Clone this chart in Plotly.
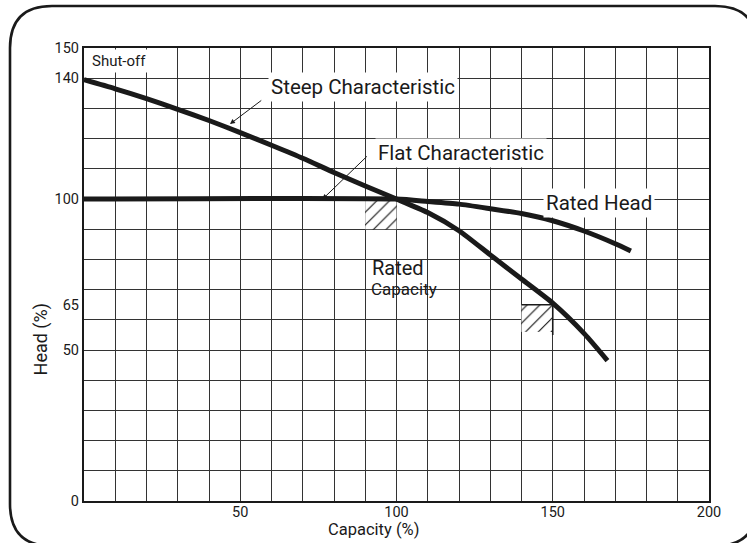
import plotly.graph_objects as go

# ---- data ----
steep_x = [0, 10, 20, 30, 40, 50, 60, 70, 80, 90, 100, 110, 120, 130, 140, 150, 160, 167.5]
steep_y = [139.5, 136.5, 133.2, 129.7, 126, 122, 117.8, 113.5, 108.8, 104.3, 100, 95.5, 89.5, 81.5, 73.5, 65.5, 55.5, 46.5]

flat_x = [0, 100, 110, 120, 130, 140, 150, 160, 170, 175]
flat_y = [100, 100, 99.2, 98.3, 96.8, 95.2, 92.8, 89.4, 85.2, 82.8]

box1_x = [90, 100, 100, 90, 90]
box1_y = [90, 90, 100, 100, 90]
box2_x = [140, 150, 150, 140, 140]
box2_y = [56, 56, 65, 65, 56]
box2_edge_x = [140, 150, 150]
box2_edge_y = [65, 65, 55]

x_tickvals = [50, 100, 150, 200]
y_tickvals = [0, 50, 65, 100, 140, 150]

W, H = 747, 543
ML, MR, MT, MB = 84, 38, 48, 42
FONT = "Roboto, Liberation Sans, sans-serif"
INK = "#1a1a1a"

fig = go.Figure()

hatch = dict(shape="/", size=9, solidity=0.11, fgcolor="#000000", fgopacity=1, bgcolor="white")
common = dict(xaxis="x2", yaxis="y2", hoverinfo="skip", showlegend=False)
fig.add_trace(go.Scatter(x=box1_x, y=box1_y, fill="toself", mode="lines",
                         line=dict(width=0), fillpattern=hatch, **common))
fig.add_trace(go.Scatter(x=box2_x, y=box2_y, fill="toself", mode="lines",
                         line=dict(width=0), fillpattern=hatch, **common))
fig.add_trace(go.Scatter(x=box2_edge_x, y=box2_edge_y, mode="lines",
                         line=dict(color=INK, width=1.6), **common))

fig.add_trace(go.Scatter(x=steep_x, y=steep_y, mode="lines", name="Steep Characteristic",
                         line=dict(color=INK, width=5, shape="spline", smoothing=0.6), **common))
fig.add_trace(go.Scatter(x=flat_x, y=flat_y, mode="lines", name="Flat Characteristic",
                         line=dict(color=INK, width=5, shape="spline", smoothing=0.6), **common))

grid = dict(showgrid=True, gridcolor="#333333", gridwidth=1.2, showticklabels=False, ticks="",
            showline=True, mirror=True, linecolor=INK, linewidth=1.6, zeroline=False, tick0=0, dtick=10)

fig.update_layout(
    width=W, height=H,
    margin=dict(l=ML, r=MR, t=MT, b=MB),
    paper_bgcolor="white", plot_bgcolor="white",
    font=dict(family=FONT, color=INK, size=14),
    xaxis=dict(range=[0, 200], **grid),
    yaxis=dict(range=[0, 150], **grid),
    xaxis2=dict(overlaying="x", anchor="y2", side="bottom", range=[0, 200], tickmode="array",
                tickvals=x_tickvals, showgrid=False, zeroline=False, showline=False, ticks="",
                tickfont=dict(size=14.5, family=FONT, color=INK)),
    yaxis2=dict(overlaying="y", anchor="x2", side="left", range=[0, 150], tickmode="array",
                tickvals=y_tickvals, showgrid=False, zeroline=False, showline=False, ticks="",
                ticklabelstandoff=4, tickfont=dict(size=14.5, family=FONT, color=INK)),
)

# text labels
def label(text, x, y, size, bg=None, xanchor="left"):
    fig.add_annotation(x=x, y=y, xref="x", yref="y", text=text, showarrow=False,
                       xanchor=xanchor, yanchor="middle", font=dict(size=size, family=FONT, color=INK),
                       bgcolor=bg, borderpad=2)

label("Shut-off", 1.5, 145.6, 15, bg="white")
label("Steep Characteristic", 59, 137.2, 20.5, bg="white")
label("Flat Characteristic", 93, 115.2, 20.5, bg="white")
label("Rated Head", 147, 98.6, 20.5, bg="white")
label("Rated", 91.3, 77.2, 20)
label("Capacity", 91, 70.3, 17)

# arrows
fig.add_annotation(x=46.7, y=124.8, ax=57.2, ay=133, xref="x", yref="y", axref="x", ayref="y",
                   text="", showarrow=True, arrowhead=2, arrowsize=1, arrowwidth=1, arrowcolor=INK)
fig.add_annotation(x=76.3, y=99.9, ax=91, ay=114.6, xref="x", yref="y", axref="x", ayref="y",
                   text="", showarrow=True, arrowhead=2, arrowsize=1, arrowwidth=1, arrowcolor=INK)

# axis titles
fig.add_annotation(x=92.6, y=0, xref="x", yref="paper", yshift=-28, text="Capacity (%)", showarrow=False,
                   xanchor="center", yanchor="middle", font=dict(size=16.5, family=FONT, color=INK))
fig.add_annotation(x=0, y=53.5, xref="paper", yref="y", xshift=-43, text="Head (%)", showarrow=False,
                   textangle=-90, xanchor="center", yanchor="middle", font=dict(size=18, family=FONT, color=INK))

# rounded frame around the figure
pw, ph = W - ML - MR, H - MT - MB
def px(x):
    return (x - ML) / pw
def py(y):
    return (H - MB - y) / ph
L, T, R, B, r = 10, 6, 757, 546, 42
path = (f"M {px(L)},{py(T + r)} Q {px(L)},{py(T)} {px(L + r)},{py(T)} "
        f"L {px(R - r)},{py(T)} Q {px(R)},{py(T)} {px(R)},{py(T + r)} "
        f"L {px(R)},{py(B - r)} Q {px(R)},{py(B)} {px(R - r)},{py(B)} "
        f"L {px(L + r)},{py(B)} Q {px(L)},{py(B)} {px(L)},{py(B - r)} Z")
fig.add_shape(type="path", path=path, xref="paper", yref="paper", line=dict(color=INK, width=2.6))

fig.write_html("out.html", config={"displayModeBar": False},
               post_script="document.body.style.margin='0';document.body.style.overflow='hidden';")
